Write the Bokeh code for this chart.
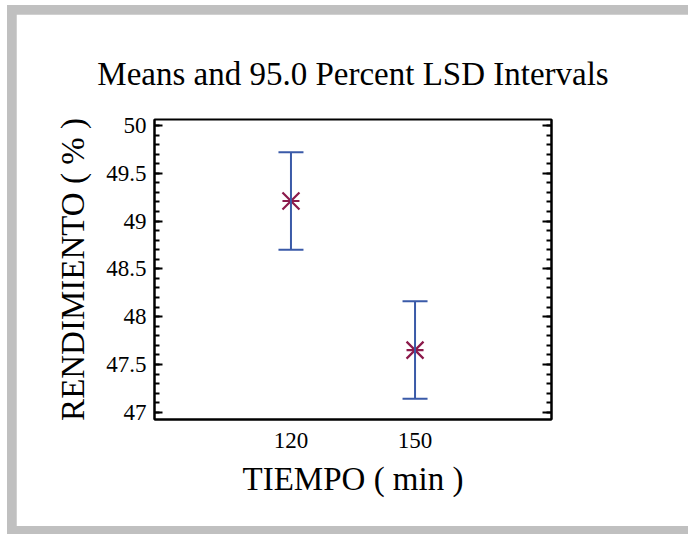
from bokeh.plotting import figure
from bokeh.models import Range1d, LinearAxis, SingleIntervalTicker, FixedTicker
from bokeh.layouts import column
from bokeh.embed import file_html
from bokeh.resources import INLINE

# ---- data ----
levels = ["120", "150"]
level_x = [120, 150]
means = [49.21, 47.65]
lower = [48.70, 47.14]
upper = [49.72, 48.16]
y_ticks = [47, 47.5, 48, 48.5, 49, 49.5, 50]
y_tick_labels = ["47", "47.5", "48", "48.5", "49", "49.5", "50"]

FONT = "Liberation Serif"
BLUE = "#3A5AA8"
MAROON = "#8C1A4B"

p = figure(width=672, height=512,
           x_range=Range1d(87, 183), y_range=Range1d(46.924, 50.063),
           output_backend="svg", toolbar_location=None,
           min_border_left=138, min_border_right=137,
           min_border_top=105, min_border_bottom=107,
           title="Means and 95.0 Percent LSD Intervals")
p.margin = (9, 0, 8, 9)
p.background_fill_color = "white"
p.border_fill_color = "white"
p.grid.visible = False
p.outline_line_color = "black"
p.outline_line_width = 2
p.outline_line_alpha = 1

p.title.text_font = FONT
p.title.text_font_size = "33px"
p.title.text_font_style = "normal"
p.title.text_color = "black"
p.title.align = "center"
p.title.standoff = 55

# markers (under the bars)
p.scatter(level_x, means, marker="x", size=24, line_color=MAROON, line_width=2.2)
p.scatter(level_x, means, marker="dash", size=17, line_color=MAROON, line_width=2.2)
# interval bars
p.segment(x0=level_x, y0=lower, x1=level_x, y1=upper, line_color=BLUE, line_width=2)
p.scatter(level_x, lower, marker="dash", size=25, line_color=BLUE, line_width=2)
p.scatter(level_x, upper, marker="dash", size=25, line_color=BLUE, line_width=2)

# x axis
xa = p.xaxis[0]
xa.ticker = FixedTicker(ticks=level_x)
xa.major_label_overrides = dict(zip(level_x, levels))
xa.major_tick_line_color = None
xa.minor_tick_line_color = None
xa.axis_line_color = "black"
xa.axis_line_width = 2
xa.major_label_text_font = FONT
xa.major_label_text_font_size = "23px"
xa.major_label_text_color = "black"
xa.major_label_standoff = 7
xa.axis_label = "TIEMPO ( min )"
xa.axis_label_text_font = FONT
xa.axis_label_text_font_size = "33px"
xa.axis_label_text_font_style = "normal"
xa.axis_label_text_color = "black"
xa.axis_label_standoff = 10

# y axis
ya = p.yaxis[0]
ya.ticker = SingleIntervalTicker(interval=0.5, num_minor_ticks=5)
ya.major_label_overrides = dict(zip(y_ticks, y_tick_labels))
ya.major_tick_in = 8
ya.major_tick_out = 0
ya.minor_tick_in = 5
ya.minor_tick_out = 0
ya.major_tick_line_width = 2
ya.minor_tick_line_width = 2
ya.major_tick_line_color = "black"
ya.minor_tick_line_color = "black"
ya.axis_line_color = "black"
ya.axis_line_width = 2
ya.major_label_text_font = FONT
ya.major_label_text_font_size = "23px"
ya.major_label_text_color = "black"
ya.major_label_standoff = 8
ya.axis_label = "RENDIMIENTO ( % )"
ya.axis_label_text_font = FONT
ya.axis_label_text_font_size = "33px"
ya.axis_label_text_font_style = "normal"
ya.axis_label_text_color = "black"
ya.axis_label_standoff = 12

# right axis (ticks only, no labels)
ra = LinearAxis(ticker=SingleIntervalTicker(interval=0.5, num_minor_ticks=5),
                major_label_text_color=None, major_label_text_font_size="10px",
                major_label_standoff=0,
                major_tick_in=9, major_tick_out=0, minor_tick_in=5, minor_tick_out=0,
                major_tick_line_width=2, minor_tick_line_width=2,
                axis_line_width=2, axis_line_color="black")
p.add_layout(ra, "right")

inner = column(p, margin=(5, 0, 0, 7), styles={"background-color": "#c0c0c0"})
outer = column(inner)

open("out.html", "w").write(file_html(outer, INLINE))
